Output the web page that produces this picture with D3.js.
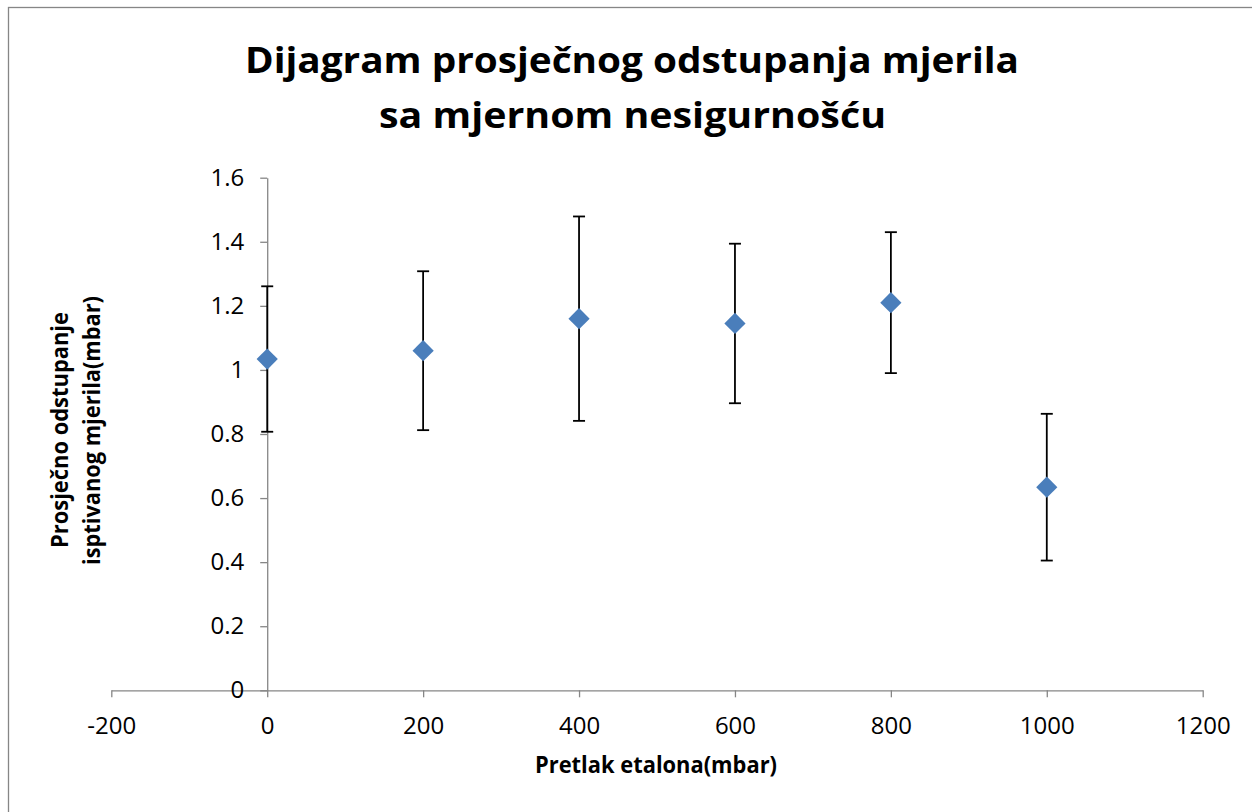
<!DOCTYPE html>
<html>
<head>
<meta charset="utf-8">
<script src="https://cdn.jsdelivr.net/npm/d3@7"></script>
<style>
  body { margin: 0; background: #fff; }
  text { font-family: "Open Sans", "Liberation Sans", sans-serif; }
</style>
</head>
<body>
<script>
let w = 1252,
  h = 812;

// data
const pressure = [0, 200, 400, 600, 800, 1000];
const deviation = [1.034, 1.060, 1.160, 1.145, 1.210, 0.634];
const uncertainty = [0.227, 0.248, 0.319, 0.249, 0.220, 0.229];

const xTicks = [-200, 0, 200, 400, 600, 800, 1000, 1200];
const yTicks = [0, 0.2, 0.4, 0.6, 0.8, 1, 1.2, 1.4, 1.6];

const titleLines = ["Dijagram prosječnog odstupanja mjerila", "sa mjernom nesigurnošću"];
const xTitle = "Pretlak etalona(mbar)";
const yTitleLines = ["Prosječno odstupanje", "isptivanog mjerila(mbar)"];

const dataset = pressure.map(function(p, i) {
  return { x: p, y: deviation[i], e: uncertainty[i] };
});

const svg = d3.select("body")
  .append("svg")
  .attr("width", w)
  .attr("height", h);

svg.append("rect")
  .attr("x", 8.5).attr("y", 7.5)
  .attr("width", 1300).attr("height", 900)
  .attr("fill", "#fff")
  .attr("stroke", "#868686")
  .attr("stroke-width", 1.3);

let xScale = d3.scaleLinear()
  .domain([-200, 1200])
  .range([111.3, 1202.7]);

let yScale = d3.scaleLinear()
  .domain([0, 1.6])
  .range([690.3, 177.7]);

// axes
const xAxis = svg.append("g")
  .attr("transform", "translate(0," + yScale(0) + ")")
  .call(d3.axisBottom(xScale).tickValues(xTicks).tickSize(7).tickPadding(20).tickSizeOuter(0)
    .tickFormat(function(d) { return String(d); }));

const yAxis = svg.append("g")
  .attr("transform", "translate(" + xScale(0) + ",0)")
  .call(d3.axisLeft(yScale).tickValues(yTicks).tickSize(7).tickPadding(16).tickSizeOuter(0)
    .tickFormat(function(d) { return String(+d.toFixed(1)); }));

[xAxis, yAxis].forEach(function(a) {
  a.select(".domain").attr("stroke", "#868686").attr("stroke-width", 1.3);
  a.selectAll(".tick line").attr("stroke", "#868686").attr("stroke-width", 1.3);
  a.selectAll(".tick text")
    .attr("fill", "#000")
    .style("font-size", "24px")
    .style("font-family", "'Open Sans', sans-serif");
});

// error bars
const bars = svg.selectAll("g.err")
  .data(dataset)
  .enter()
  .append("g")
  .attr("class", "err")
  .attr("stroke", "#000")
  .attr("stroke-width", 1.8);

bars.append("line")
  .attr("x1", function(d) { return xScale(d.x); })
  .attr("x2", function(d) { return xScale(d.x); })
  .attr("y1", function(d) { return yScale(d.y + d.e); })
  .attr("y2", function(d) { return yScale(d.y - d.e); });

bars.append("line")
  .attr("x1", function(d) { return xScale(d.x) - 6; })
  .attr("x2", function(d) { return xScale(d.x) + 6; })
  .attr("y1", function(d) { return yScale(d.y + d.e); })
  .attr("y2", function(d) { return yScale(d.y + d.e); });

bars.append("line")
  .attr("x1", function(d) { return xScale(d.x) - 6; })
  .attr("x2", function(d) { return xScale(d.x) + 6; })
  .attr("y1", function(d) { return yScale(d.y - d.e); })
  .attr("y2", function(d) { return yScale(d.y - d.e); });

// diamond markers
svg.selectAll("path.pt")
  .data(dataset)
  .enter()
  .append("path")
  .attr("class", "pt")
  .attr("d", d3.symbol().type(d3.symbolSquare).size(225))
  .attr("transform", function(d) {
    return "translate(" + xScale(d.x) + "," + yScale(d.y) + ") rotate(45)";
  })
  .attr("fill", "#4a7ebb");

// titles, squeezed to the width of the original lettering
function fitted(sel, width) {
  sel.attr("textLength", width).attr("lengthAdjust", "spacingAndGlyphs");
}

svg.append("text")
  .attr("x", 245).attr("y", 73)
  .style("font-size", "36px").style("font-weight", "bold")
  .text(titleLines[0])
  .call(fitted, 774);

svg.append("text")
  .attr("x", 379).attr("y", 128)
  .style("font-size", "36px").style("font-weight", "bold")
  .text(titleLines[1])
  .call(fitted, 507);

svg.append("text")
  .attr("x", 535).attr("y", 773)
  .style("font-size", "23px").style("font-weight", "bold")
  .text(xTitle)
  .call(fitted, 242);

const yt = svg.append("g").attr("transform", "rotate(-90)");
yt.append("text")
  .attr("x", -548).attr("y", 68)
  .style("font-size", "23px").style("font-weight", "bold")
  .text(yTitleLines[0])
  .call(fitted, 236);
yt.append("text")
  .attr("x", -565).attr("y", 99.5)
  .style("font-size", "23px").style("font-weight", "bold")
  .text(yTitleLines[1])
  .call(fitted, 269);
</script>
</body>
</html>
